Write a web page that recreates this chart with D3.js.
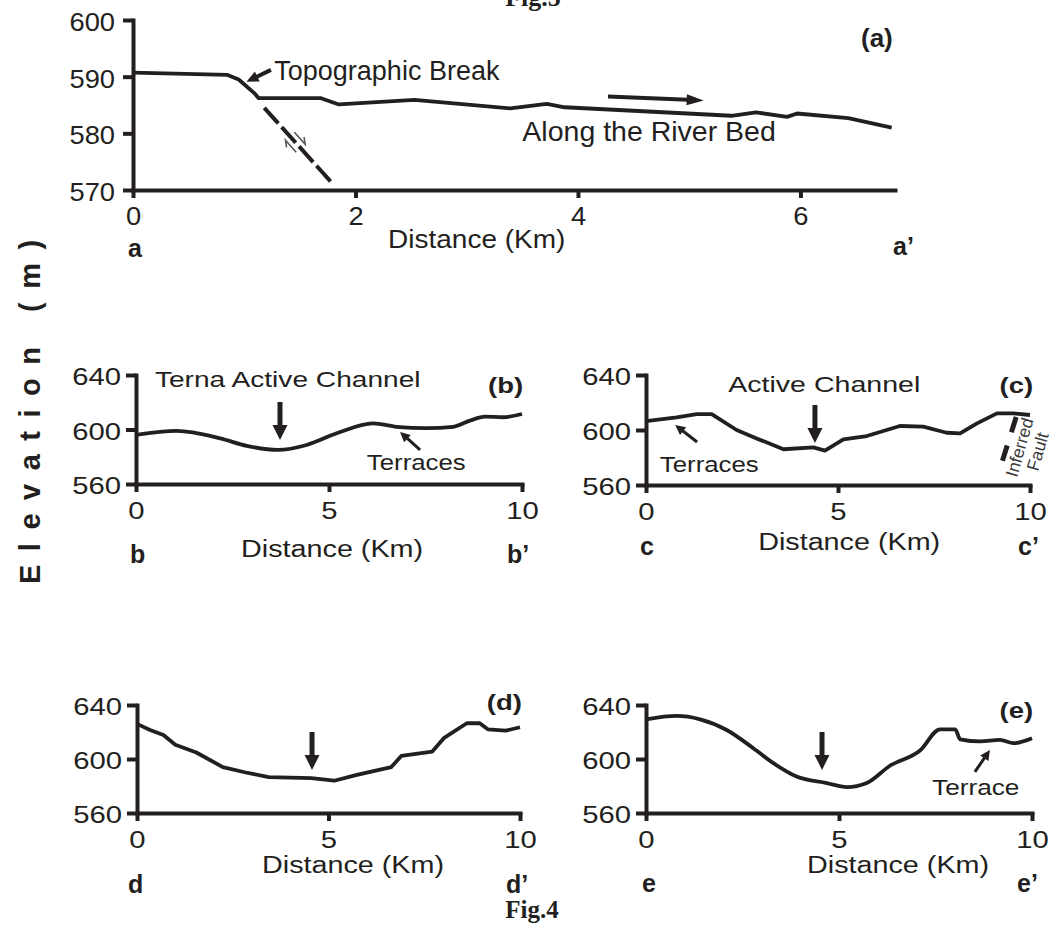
<!DOCTYPE html>
<html>
<head>
<meta charset="utf-8">
<script src="https://cdn.jsdelivr.net/npm/d3@7"></script>
<style>
  body { margin: 0; background: #fff; }
  svg { display: block; }
  text { font-family: "Liberation Sans", Arial, Helvetica, sans-serif; fill: #231f20; }
  .fig { font-family: "Liberation Serif", "Times New Roman", serif; font-weight: bold; }
</style>
</head>
<body>
<div id="chart"></div>
<script>
// profile (a): along the river bed
var distA = [0, 0.85, 0.95, 1.09, 1.13, 1.69, 1.85, 2.53, 3.39, 3.72, 3.88, 5.38, 5.60, 5.88, 5.97, 6.43, 6.82];
var elevA = [590.7, 590.3, 589.5, 587.1, 586.2, 586.2, 585.1, 585.9, 584.4, 585.2, 584.6, 583.1, 583.7, 582.9, 583.5, 582.7, 581.0];
// profile (b)
var distB = [0, 1.05, 2.18, 2.87, 3.68, 4.42, 5.2, 6.14, 6.75, 7.53, 8.22, 8.65, 9.04, 9.51, 10];
var elevB = [596, 599, 593.5, 588, 585, 588.6, 597.2, 604.5, 602, 601, 602, 606.5, 609.4, 609, 611.4];
// profile (c)
var distC = [0, 0.8, 1.32, 1.71, 2.36, 2.88, 3.58, 4.36, 4.66, 5.14, 5.75, 6.61, 7.22, 7.83, 8.18, 8.62, 9.14, 9.57, 10];
var elevC = [606.5, 609.2, 611.6, 611.6, 600, 593.9, 586, 587.4, 585, 593.2, 595.6, 602.9, 602.4, 598, 597.6, 604.8, 612.1, 612.1, 610.9];
// profile (d)
var distD = [0, 0.34, 0.69, 1.0, 1.55, 2.24, 2.84, 3.44, 4.55, 5.15, 5.74, 6.64, 6.9, 7.28, 7.71, 8.01, 8.61, 8.95, 9.16, 9.63, 10];
var elevD = [626, 621.5, 617.8, 610.5, 604.8, 594, 590, 586.6, 585.8, 583.9, 588.3, 594, 602.3, 603.8, 605.5, 615.4, 626.5, 626.5, 622, 621, 623.5];
// profile (e)
var distE = [0, 0.79, 1.4, 2.09, 2.78, 3.3, 3.9, 4.68, 5.2, 5.72, 6.32, 7.1, 7.62, 8.01, 8.14, 8.66, 9.17, 9.52, 10];
var elevE = [629.4, 631.9, 629.4, 621.5, 608, 596.9, 587, 582.2, 579.2, 582.2, 595, 606.3, 622, 622, 614.6, 613, 614.2, 611.7, 615.4];

var xTicksA = [0, 2, 4, 6], yTicksA = [570, 580, 590, 600];
var xTicksP = [0, 5, 10], yTicksP = [560, 600, 640];

var ink = '#231f20';
var W = 1058, H = 926;

var svg = d3.select('#chart').append('svg')
    .attr('width', W)
    .attr('height', H);

function label(g, x, y, str, o) {
    o = o || {};
    return g.append('text')
        .attr('transform', 'translate(' + x + ',' + y + ') scale(' + (o.sx || 1) + ',1)')
        .attr('text-anchor', o.anchor || 'start')
        .style('font-size', (o.size || 26) + 'px')
        .style('font-weight', o.bold ? 'bold' : null)
        .text(str);
}

function arrow(g, p1, p2, w, hl, hw) {
    var dx = p2[0] - p1[0], dy = p2[1] - p1[1], L = Math.sqrt(dx * dx + dy * dy);
    var ux = dx / L, uy = dy / L;
    var bx = p2[0] - ux * hl, by = p2[1] - uy * hl;
    g.append('line')
        .attr('x1', p1[0]).attr('y1', p1[1])
        .attr('x2', bx + ux).attr('y2', by + uy)
        .attr('stroke', ink).attr('stroke-width', w);
    g.append('path')
        .attr('d', 'M' + p2[0] + ',' + p2[1] +
            'L' + (bx - uy * hw / 2) + ',' + (by + ux * hw / 2) +
            'L' + (bx + uy * hw / 2) + ',' + (by - ux * hw / 2) + 'Z')
        .attr('fill', ink);
}

// each panel: its box on the page, domains, and where its labels sit
var panels = [
    { key: 'a', dist: distA, elev: elevA, left: 133, right: 895, top: 20, bottom: 190,
      xDom: [0, 6.85], yDom: [570, 600], xTicks: xTicksA, yTicks: yTicksA,
      tickSize: 26, tickSx: 1.05, curve: d3.curveLinear,
      distX: 3.09, distDy: 58, distSx: 1.12, distSize: 25,
      endL: [-5, 67], endR: [-2, 65] },
    { key: 'b', dist: distB, elev: elevB, left: 136, right: 522, top: 375, bottom: 484,
      xDom: [0, 10], yDom: [560, 640], xTicks: xTicksP, yTicks: yTicksP,
      tickSize: 24, tickSx: 1.22, curve: d3.curveMonotoneX,
      distX: 5.08, distDy: 73, distSx: 1.25, distSize: 23,
      endL: [-6, 79], endR: [-15, 79] },
    { key: 'c', dist: distC, elev: elevC, left: 646, right: 1030, top: 375, bottom: 485,
      xDom: [0, 10], yDom: [560, 640], xTicks: xTicksP, yTicks: yTicksP,
      tickSize: 24, tickSx: 1.22, curve: d3.curveLinear,
      distX: 5.29, distDy: 65, distSx: 1.25, distSize: 23,
      endL: [-6, 70], endR: [-12, 70] },
    { key: 'd', dist: distD, elev: elevD, left: 137, right: 520, top: 705, bottom: 813,
      xDom: [0, 10], yDom: [560, 640], xTicks: xTicksP, yTicks: yTicksP,
      tickSize: 24, tickSx: 1.22, curve: d3.curveLinear,
      distX: 5.64, distDy: 60, distSx: 1.25, distSize: 23,
      endL: [-9, 80], endR: [-14, 80] },
    { key: 'e', dist: distE, elev: elevE, left: 646, right: 1032, top: 705, bottom: 813,
      xDom: [0, 10], yDom: [560, 640], xTicks: xTicksP, yTicks: yTicksP,
      tickSize: 24, tickSx: 1.22, curve: d3.curveMonotoneX,
      distX: 6.53, distDy: 60, distSx: 1.25, distSize: 23,
      endL: [-4, 79], endR: [-15, 79] }
];

panels.forEach(function (p) {
    var x = d3.scaleLinear().domain(p.xDom).range([p.left, p.right]);
    var y = d3.scaleLinear().domain(p.yDom).range([p.bottom, p.top]);
    p.x = x; p.y = y;
    var g = svg.append('g').attr('class', 'panel ' + p.key);

    var xAxis = d3.axisBottom(x).tickValues(p.xTicks).tickFormat(d3.format('d'))
        .tickSizeInner(8).tickSizeOuter(0).tickPadding(27 - 0.71 * p.tickSize);
    var yAxis = d3.axisLeft(y).tickValues(p.yTicks).tickFormat(d3.format('d'))
        .tickSizeInner(10).tickSizeOuter(0).tickPadding(p.key === 'a' ? 8 : 5);

    var gx = g.append('g').attr('transform', 'translate(0,' + p.bottom + ')').call(xAxis);
    var gy = g.append('g').attr('transform', 'translate(' + p.left + ',0)').call(yAxis);

    [gx, gy].forEach(function (ax) {
        ax.select('.domain').attr('stroke', ink).attr('stroke-width', 4).attr('stroke-linecap', 'square');
        ax.selectAll('.tick line').attr('stroke', ink).attr('stroke-width', 4);
        ax.selectAll('.tick text')
            .attr('fill', ink)
            .style('font-family', '"Liberation Sans", Arial, sans-serif')
            .style('font-size', p.tickSize + 'px');
    });
    gy.selectAll('.tick text').each(function () {
        var t = d3.select(this), tx = +t.attr('x');
        t.attr('x', 0).attr('dy', '0.4em')
            .attr('transform', 'translate(' + tx + ',0) scale(' + p.tickSx + ',1)');
    });
    gx.selectAll('.tick text').each(function () {
        d3.select(this).attr('transform', 'scale(' + p.tickSx + ',1)');
    });

    // the profile itself
    var line = d3.line()
        .curve(p.curve)
        .x(function (d) { return x(d[0]); })
        .y(function (d) { return y(d[1]); });
    g.append('path')
        .datum(d3.zip(p.dist, p.elev))
        .attr('d', line)
        .attr('fill', 'none')
        .attr('stroke', ink)
        .attr('stroke-width', 3.8)
        .attr('stroke-linejoin', 'round');

    label(g, x(p.distX), p.bottom + p.distDy, 'Distance (Km)',
        { size: p.distSize, sx: p.distSx, anchor: 'middle' });
    label(g, p.left + p.endL[0], p.bottom + p.endL[1], p.key, { size: 25, bold: true });
    label(g, p.right + p.endR[0], p.bottom + p.endR[1], p.key + '\u2019', { size: 25, bold: true });

    p.g = g;
});

// annotations, placed in data units of each panel
(function () {
    var p = panels[0], g = p.g, x = p.x, y = p.y;
    label(g, x(6.83), y(595.3), '(a)', { size: 26, bold: true, anchor: 'end' });
    label(g, x(1.27), y(589.5), 'Topographic Break', { size: 27 });
    arrow(g, [x(1.24), y(591.2)], [x(1.02), y(589.1)], 4, 12, 11);
    label(g, x(3.5), y(578.6), 'Along the River Bed', { size: 28.5 });
    arrow(g, [x(4.27), y(586.5)], [x(5.13), y(585.8)], 4, 17, 11);

    // inferred normal fault below the break
    var f1 = [x(1.18), y(584.5)], f2 = [x(1.8), y(571.0)];
    g.append('line')
        .attr('x1', f1[0]).attr('y1', f1[1]).attr('x2', f2[0]).attr('y2', f2[1])
        .attr('stroke', ink).attr('stroke-width', 4).attr('stroke-dasharray', '21,5');
    var dx = f2[0] - f1[0], dy = f2[1] - f1[1], L = Math.sqrt(dx * dx + dy * dy);
    var ux = dx / L, uy = dy / L, nx = -uy, ny = ux;
    var mx = f1[0] + dx * 0.45, my = f1[1] + dy * 0.45;
    [[1, 1], [-1, -1]].forEach(function (s) {
        var side = s[0] * 6, dir = s[1];
        var ax = mx - nx * side, ay = my - ny * side;
        var sx = ax - ux * 8 * dir, sy = ay - uy * 8 * dir;
        var ex = ax + ux * 8 * dir, ey = ay + uy * 8 * dir;
        g.append('path')
            .attr('d', 'M' + sx + ',' + sy + 'L' + ex + ',' + ey +
                'L' + (ex - ux * 6 * dir - nx * 4 * s[0]) + ',' + (ey - uy * 6 * dir - ny * 4 * s[0]))
            .attr('fill', 'none').attr('stroke', '#555').attr('stroke-width', 1.6);
    });
})();

(function () {
    var p = panels[1], g = p.g, x = p.x, y = p.y, o = { size: 22.5, sx: 1.25 };
    label(g, x(0.49), y(631.2), 'Terna Active Channel', o);
    arrow(g, [x(3.73), y(620.2)], [x(3.73), y(592.3)], 5, 15, 15);
    label(g, x(10.03), y(626.8), '(b)', { size: 22, sx: 1.25, bold: true, anchor: 'end' });
    label(g, x(5.98), y(570.3), 'Terraces', { size: 21.5, sx: 1.2 });
    arrow(g, [x(7.36), y(585)], [x(6.84), y(598.2)], 3, 10, 10);
})();

(function () {
    var p = panels[2], g = p.g, x = p.x, y = p.y;
    label(g, x(2.14), y(627.6), 'Active Channel', { size: 22.5, sx: 1.27 });
    arrow(g, [x(4.4), y(618.2)], [x(4.4), y(590.5)], 5, 15, 15);
    label(g, x(10.08), y(626.9), '(c)', { size: 22, sx: 1.25, bold: true, anchor: 'end' });
    label(g, x(0.36), y(569.5), 'Terraces', { size: 21.5, sx: 1.2 });
    arrow(g, [x(1.33), y(591.3)], [x(0.76), y(603.6)], 3, 10, 10);
    g.append('line')
        .attr('x1', x(9.64)).attr('y1', y(609.5)).attr('x2', x(9.24)).attr('y2', y(573.8))
        .attr('stroke', ink).attr('stroke-width', 5).attr('stroke-dasharray', '16,14');
    [['Inferred', 9.66, 565.1], ['Fault', 10.21, 569.5]].forEach(function (t) {
        g.append('text')
            .attr('transform', 'translate(' + x(t[1]) + ',' + y(t[2]) + ') rotate(-74)')
            .style('font-size', '17.5px')
            .style('fill', '#3a3a3a')
            .text(t[0]);
    });
})();

(function () {
    var p = panels[3], g = p.g, x = p.x, y = p.y;
    arrow(g, [x(4.57), y(620)], [x(4.57), y(591.9)], 5, 15, 15);
    label(g, x(10.05), y(636.3), '(d)', { size: 22, sx: 1.25, bold: true, anchor: 'end' });
})();

(function () {
    var p = panels[4], g = p.g, x = p.x, y = p.y;
    arrow(g, [x(4.56), y(620)], [x(4.56), y(591.9)], 5, 15, 15);
    label(g, x(10.03), y(630.4), '(e)', { size: 22, sx: 1.25, bold: true, anchor: 'end' });
    label(g, x(7.41), y(573.3), 'Terrace', { size: 21.5, sx: 1.22 });
    arrow(g, [x(8.52), y(590.4)], [x(8.91), y(606.7)], 3, 10, 10);
})();

// shared y title
svg.append('text')
    .attr('transform', 'translate(40,584) rotate(-90)')
    .attr('text-anchor', 'start')
    .style('font-size', '29px')
    .style('font-weight', 'bold')
    .style('letter-spacing', '13.5px')
    .text('Elevation (m)');

svg.append('text').attr('class', 'fig')
    .attr('x', 533).attr('y', 6).attr('text-anchor', 'middle')
    .style('font-size', '26px').text('Fig.5');
svg.append('text').attr('class', 'fig')
    .attr('x', 532).attr('y', 918).attr('text-anchor', 'middle')
    .style('font-size', '25px').text('Fig.4');
</script>
</body>
</html>
